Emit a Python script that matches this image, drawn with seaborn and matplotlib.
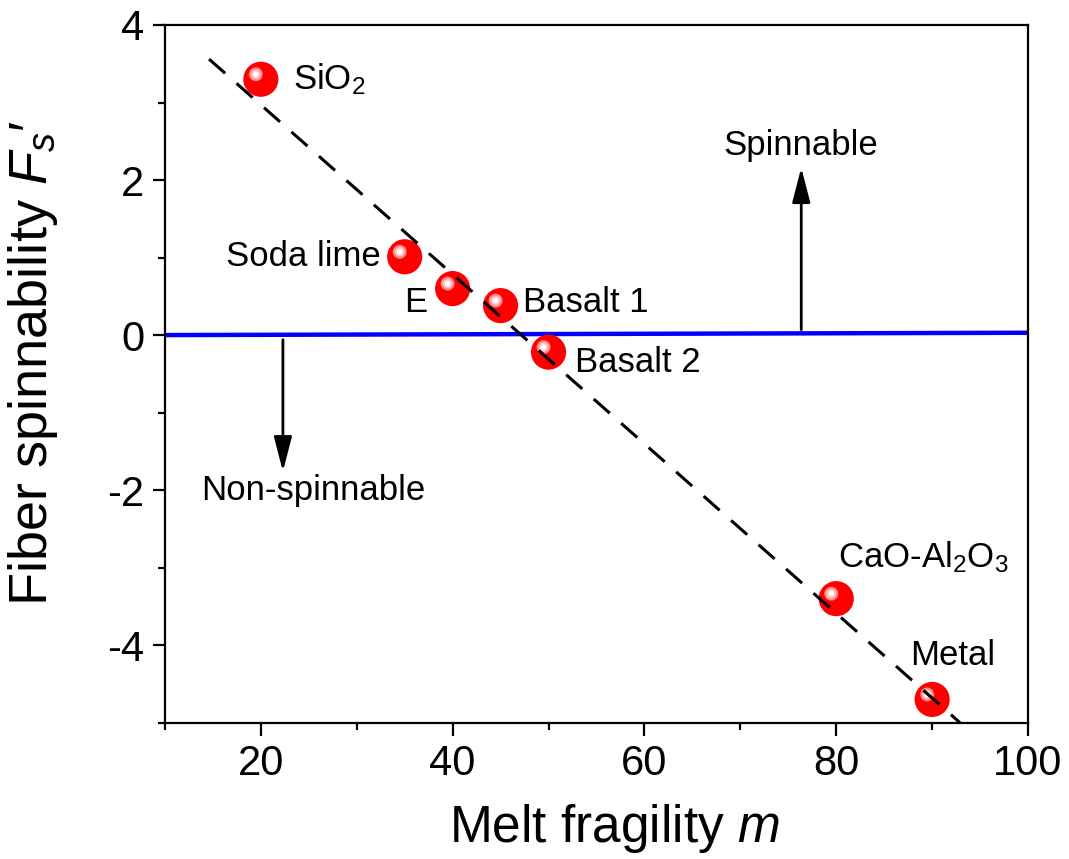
import matplotlib
matplotlib.use("Agg")
import matplotlib.pyplot as plt
import pandas as pd
import seaborn as sns
from matplotlib.transforms import offset_copy
from matplotlib.ticker import MultipleLocator

# Glass-forming melts: fragility vs. fiber spinnability
materials = ["SiO$_2$", "Soda lime", "E", "Basalt 1", "Basalt 2",
             "CaO-Al$_2$O$_3$", "Metal"]
fragility = [20, 35, 40, 45, 50, 80, 90]
spinnability = [3.30, 1.01, 0.60, 0.38, -0.22, -3.40, -4.70]

# where each material name sits
label_x = [23.4, 32.5, 37.4, 47.3, 52.8, 80.2, 87.7]
label_y = [3.30, 1.01, 0.42, 0.42, -0.36, -2.86, -4.13]
label_ha = ["left", "right", "right", "left", "left", "left", "left"]

# linear trend line
fit_x = [14.6, 92.9]
fit_y = [3.56, -5.0]

# spinnability threshold
threshold_x = [10, 100]
threshold_y = [0.0, 0.03]

# region arrows and captions
region_labels = ["Spinnable", "Non-spinnable"]
arrow_x = [76.35, 22.3]
arrow_start = [0.07, -0.06]
arrow_end = [2.16, -1.76]
region_label_x = [76.25, 25.5]
region_label_y = [2.44, -2.0]

df = pd.DataFrame({"material": materials, "m": fragility, "Fs": spinnability})

sns.set_style("ticks")
plt.rcParams["font.family"] = ["Liberation Sans", "DejaVu Sans"]
plt.rcParams["mathtext.fontset"] = "custom"
plt.rcParams["mathtext.rm"] = "Liberation Sans"
plt.rcParams["mathtext.it"] = "Liberation Sans:italic"
plt.rcParams["mathtext.bf"] = "Liberation Sans:bold"
plt.rcParams["axes.unicode_minus"] = False
for key in ["text.color", "axes.labelcolor", "xtick.color", "ytick.color",
            "axes.edgecolor"]:
    plt.rcParams[key] = "black"

fig = plt.figure(figsize=(10.69, 8.59), dpi=100)
ax = fig.add_axes([0.1543, 0.1587, 0.9617 - 0.1543, 0.9709 - 0.1587])

# threshold line
sns.lineplot(x=threshold_x, y=threshold_y, ax=ax, color="#0000ff", lw=3.2,
             zorder=2, estimator=None)

# red spheres with a soft highlight
sns.scatterplot(data=df, x="m", y="Fs", ax=ax, s=640, color="#ff0000",
                edgecolor="none", linewidth=0, zorder=3, legend=False)
hl = offset_copy(ax.transData, fig=fig, x=-5, y=5, units="dots")
for size, col in [(100, "#ff8a8a"), (48, "#ffc8c8"), (14, "#ffffff")]:
    ax.scatter(df["m"], df["Fs"], s=size, color=col, edgecolor="none",
               zorder=4, transform=hl)

# trend line
sns.lineplot(x=fit_x, y=fit_y, ax=ax, color="black", lw=2.2, zorder=5,
             dashes=False, estimator=None, linestyle=(0, (7, 5)))

for name, x, y, ha in zip(materials, label_x, label_y, label_ha):
    ax.text(x, y, name, ha=ha, va="center", fontsize=25, zorder=6)

for name, ax_x, y0, y1, tx, ty in zip(region_labels, arrow_x, arrow_start,
                                       arrow_end, region_label_x, region_label_y):
    ax.annotate("", xy=(ax_x, y1), xytext=(ax_x, y0),
                arrowprops=dict(arrowstyle="-|>,head_length=0.85,head_width=0.22",
                                color="black", lw=2, mutation_scale=25,
                                shrinkA=0, shrinkB=0))
    ax.text(tx, ty, name, ha="center", va="center", fontsize=25)

ax.set_xlim(10, 100)
ax.set_ylim(-5, 4)
ax.xaxis.set_major_locator(MultipleLocator(20))
ax.xaxis.set_minor_locator(MultipleLocator(10))
ax.yaxis.set_major_locator(MultipleLocator(2))
ax.yaxis.set_minor_locator(MultipleLocator(1))
ax.tick_params(which="both", direction="out", width=1.6, labelsize=30,
               top=False, right=False)
ax.tick_params(which="major", length=9, pad=6)
ax.tick_params(which="minor", length=5)
for sp in ax.spines.values():
    sp.set_visible(True)
    sp.set_linewidth(1.6)
    sp.set_color("black")

ax.set_xlabel("Melt fragility $m$", fontsize=37)
ax.set_ylabel("Fiber spinnability $F_s$\u2032", fontsize=39)
ax.xaxis.set_label_coords(0.521, -0.113)
ax.yaxis.set_label_coords(-0.122, 0.515)

fig.savefig("out.png", dpi=100)
